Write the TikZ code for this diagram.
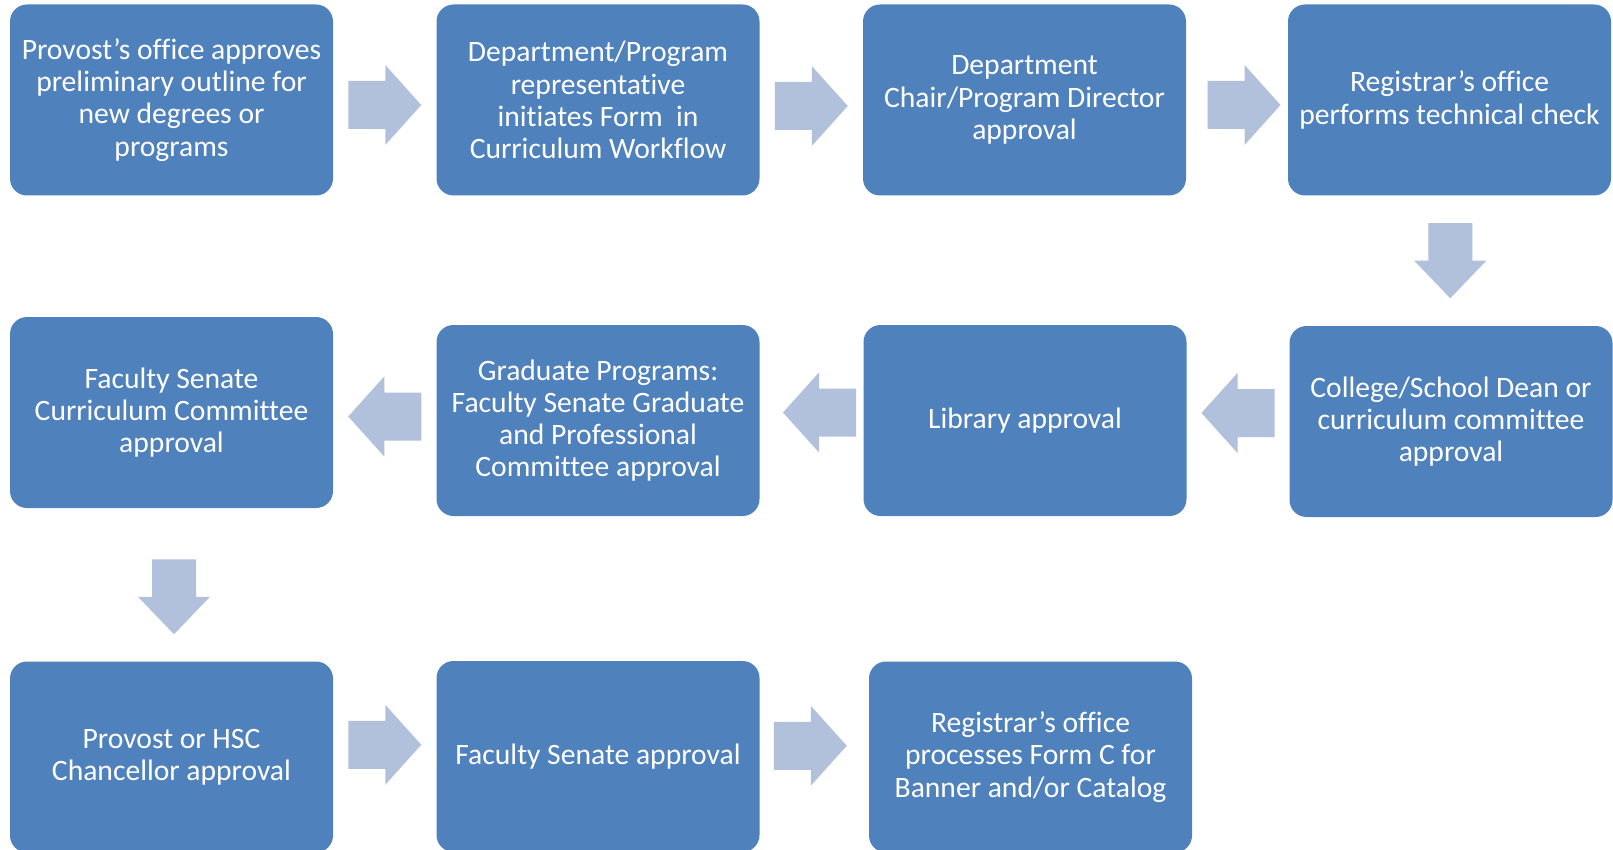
\documentclass[tikz,border=0pt]{standalone}
\usepackage{fontspec}
\setmainfont{Carlito}[Ligatures=NoCommon]
\usetikzlibrary{calc}
\definecolor{boxblue}{HTML}{4F81BD}
\definecolor{arrowblue}{HTML}{B1C1DB}
\tikzset{
  stepbox/.style={fill=boxblue, rounded corners=17pt, minimum width=323pt,
    minimum height=191pt, align=center, text=white, inner sep=0pt,
    font=\fontsize{29.6}{32.2}\selectfont},
  pics/harrow/.style={code={\fill[arrowblue] (-36.5,-24)--(0.5,-24)--(0.5,-40)--(36.5,0)--(0.5,40)--(0.5,24)--(-36.5,24)--cycle;}},
  pics/varrow/.style={code={\fill[arrowblue] (-22,-37.5)--(-22,0)--(-36,0)--(0,37.5)--(36,0)--(22,0)--(22,-37.5)--cycle;}}
}
\begin{document}
\begin{tikzpicture}[x=1pt,y=-1pt]
\useasboundingbox (0,0) rectangle (1613,850);
\clip (0,0) rectangle (1613,850);
\fill[white] (0,0) rectangle (1613,850);
% row 1
\node[stepbox] (b1) at (171.5,100) {Provost’s office approves\\preliminary outline for\\new degrees or\\programs};
\node[stepbox] (b2) at (598,100) {Department/Program\\representative\\initiates Form\ \ in\\Curriculum Workflow};
\node[stepbox] (b3) at (1024.5,100) {Department\\Chair/Program Director\\approval};
\node[stepbox] (b4) at (1449.5,100) {Registrar’s office\\performs technical check};
% row 2
\node[stepbox] (b8) at (1451,421.5) {College/School Dean or\\curriculum committee\\approval};
\node[stepbox] (b7) at (1025,420.5) {Library approval};
\node[stepbox] (b6) at (598,420.5) {Graduate Programs:\\Faculty Senate Graduate\\and Professional\\Committee approval};
\node[stepbox] (b5) at (171.5,412.5) {Faculty Senate\\Curriculum Committee\\approval};
% row 3
\node[stepbox] (b9) at (171.5,757) {Provost or HSC\\Chancellor approval};
\node[stepbox] (b10) at (598,756.5) {Faculty Senate approval};
\node[stepbox] (b11) at (1030.5,757) {Registrar’s office\\processes Form C for\\Banner and/or Catalog};
% arrows
\pic at ($(b1.east)!0.5!(b2.west)+(0,5)$) {harrow};
\pic at ($(b2.east)!0.5!(b3.west)+(0,6)$) {harrow};
\pic at ($(b3.east)!0.5!(b4.west)+(7,5)$) {harrow};
\pic at ($(b4.south)!0.5!(b8.north)$) {varrow};
\pic[rotate=180] at ($(b8.west)!0.5!(b7.east)+(0,-8)$) {harrow};
\pic[rotate=180] at ($(b7.west)!0.5!(b6.east)+(8,-8)$) {harrow};
\pic[rotate=180] at ($(b6.west)!0.5!(b5.east)+(0,0)$) {harrow};
\pic at ($(b5.south)!0.5!(b9.north)+(2.5,12)$) {varrow};
\pic at ($(b9.east)!0.5!(b10.west)+(0,-12)$) {harrow};
\pic at ($(b10.east)!0.5!(b11.west)+(-4,-11)$) {harrow};
\end{tikzpicture}
\end{document}
